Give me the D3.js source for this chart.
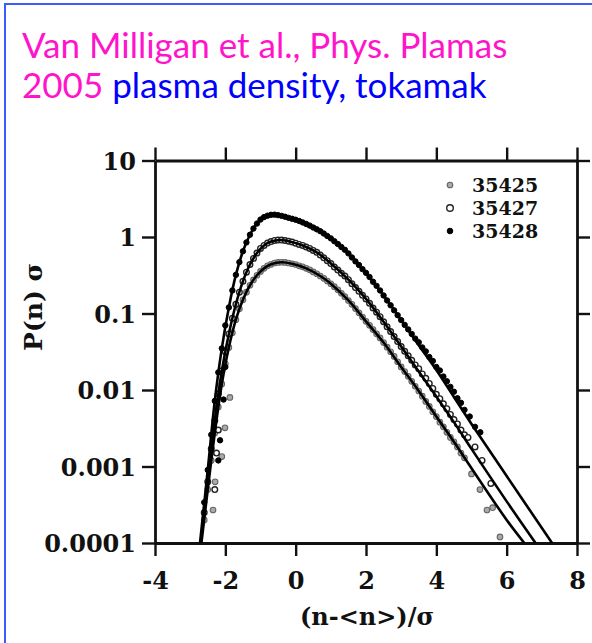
<!DOCTYPE html>
<html>
<head>
<meta charset="utf-8">
<script src="https://cdn.jsdelivr.net/npm/d3@7"></script>
<style>
  body { margin: 0; background: #fff; }
  svg { display: block; }
</style>
</head>
<body>
<div id="container"></div>
<script>
const titleLine1 = 'Van Milligan et al., Phys. Plamas';
const titleYear = '2005';
const titleRest = ' plasma density, tokamak';

const xTicks = [-4, -2, 0, 2, 4, 6, 8];
const xTickLabels = ['-4', '-2', '0', '2', '4', '6', '8'];
const yTicks = [1e-4, 1e-3, 1e-2, 1e-1, 1, 10];
const yTickLabels = ['0.0001', '0.001', '0.01', '0.1', '1', '10'];
const xTitle = '(n-<n>)/\u03c3';
const yTitle = 'P(n) \u03c3';
const seriesNames = ['35425', '35427', '35428'];

// measured points, one column per x value
const gridX = [
  -2.6, -2.5, -2.4, -2.3, -2.2, -2.1, -2.0, -1.9, -1.8, -1.7,
  -1.6, -1.5, -1.4, -1.3, -1.2, -1.1, -1.0, -0.9, -0.8, -0.7,
  -0.6, -0.5, -0.4, -0.3, -0.2, -0.1, 0.0, 0.1, 0.2, 0.3,
  0.4, 0.5, 0.6, 0.7, 0.8, 0.9, 1.0, 1.1, 1.2, 1.3,
  1.4, 1.5, 1.6, 1.7, 1.8, 1.9, 2.0, 2.1, 2.2, 2.3,
  2.4, 2.5, 2.6, 2.7, 2.8, 2.9, 3.0, 3.1, 3.2, 3.3,
  3.4, 3.5, 3.6, 3.7, 3.8, 3.9, 4.0, 4.1, 4.2, 4.3,
  4.4, 4.5, 4.6, 4.7, 4.8
];
const p35425 = [
  2e-4, 5e-4, 1.2e-3, 2.75e-3, 6e-3, 0.012, 0.022, 0.036, 0.056, 0.083,
  0.115, 0.151, 0.19, 0.234, 0.275, 0.316, 0.355, 0.389, 0.42, 0.44,
  0.457, 0.465, 0.468, 0.465, 0.457, 0.447, 0.437, 0.42, 0.407, 0.389,
  0.372, 0.35, 0.331, 0.309, 0.288, 0.266, 0.245, 0.224, 0.204, 0.184,
  0.166, 0.148, 0.132, 0.116, 0.102, 0.09, 0.079, 0.07, 0.0617, 0.0543,
  0.0479, 0.0417, 0.0363, 0.0316, 0.0275, 0.0234, 0.02, 0.0174, 0.0151, 0.013,
  0.0112, 0.0097, 0.0083, 0.0071, 0.0061, 0.0052, 0.0045, 0.0038, 0.0033, 0.0028,
  0.0024, 0.0021, 0.0018, 0.0015, 0.0013
];
const p35427 = [
  2.5e-4, 6.3e-4, 1.7e-3, 4e-3, 8.9e-3, 0.0178, 0.0316, 0.054, 0.087, 0.132,
  0.19, 0.263, 0.347, 0.437, 0.525, 0.617, 0.708, 0.776, 0.832, 0.871,
  0.902, 0.912, 0.912, 0.9, 0.88, 0.86, 0.83, 0.8, 0.776, 0.74,
  0.708, 0.668, 0.63, 0.58, 0.535, 0.49, 0.45, 0.405, 0.37, 0.336,
  0.309, 0.277, 0.245, 0.218, 0.195, 0.173, 0.155, 0.136, 0.118, 0.104,
  0.091, 0.078, 0.067, 0.058, 0.05, 0.043, 0.037, 0.032, 0.028, 0.0245,
  0.0213, 0.019, 0.0162, 0.0142, 0.0122, 0.0105, 0.0088, 0.0077, 0.0066, 0.0057,
  0.0048, 0.0041, 0.0036, 0.003, 0.0026
];
const p35428 = [
  3.4e-4, 9e-4, 2.6e-3, 7.2e-3, 0.017, 0.035, 0.07, 0.12, 0.2, 0.32,
  0.47, 0.65, 0.85, 1.07, 1.29, 1.5, 1.69, 1.82, 1.9, 1.95,
  1.96, 1.93, 1.89, 1.84, 1.78, 1.73, 1.68, 1.62, 1.55, 1.48,
  1.41, 1.33, 1.26, 1.19, 1.11, 1.03, 0.96, 0.88, 0.81, 0.74,
  0.68, 0.61, 0.54, 0.48, 0.43, 0.38, 0.34, 0.3, 0.26, 0.23,
  0.2, 0.172, 0.148, 0.128, 0.11, 0.095, 0.082, 0.071, 0.062, 0.054,
  0.047, 0.042, 0.036, 0.032, 0.027, 0.024, 0.02, 0.018, 0.015, 0.013,
  0.011, 0.0095, 0.0078, 0.0068, 0.0055
];

// scattered points in the tails
const tail35425 = [[-2.35, 2.7e-4], [-2.29, 6.3e-4], [-2.1, 1.35e-3], [-2.01, 3.2e-3], [-1.87, 8e-3],
  [5.0, 8e-4], [5.24, 5e-4], [5.44, 2.7e-4], [5.6, 2.9e-4], [5.81, 1.2e-4]];
const tail35427 = [[-2.2, 3e-3], [-2.25, 1.5e-3], [-2.3, 5e-4], [4.9, 0.0024], [5.1, 0.0018], [5.3, 0.0012], [5.55, 6e-4]];
const tail35428 = [[-2.05, 7.5e-3], [-2.15, 2.2e-3], [-2.2, 1.2e-3], [-2.0, 0.02], [4.95, 0.0045], [5.1, 0.0033], [5.25, 0.0028]];

// fitted curves
const fit35425 = [[-2.68, 1e-4], [-2.5, 5e-4], [-2.3, 2.75e-3], [-2.1, 0.012], [-1.9, 0.036], [-1.7, 0.083],
  [-1.5, 0.151], [-1.3, 0.234], [-1.1, 0.316], [-0.9, 0.389], [-0.7, 0.44], [-0.4, 0.468], [-0.1, 0.447],
  [0.3, 0.389], [0.7, 0.309], [1.0, 0.245], [1.5, 0.148], [2.0, 0.079], [2.5, 0.0417], [3.0, 0.02],
  [3.5, 0.0097], [4.0, 0.0045], [4.5, 0.0021], [5.0, 9.5e-4], [6.0, 2e-4], [6.5, 1e-4]];
const fit35427 = [[-2.7, 1e-4], [-2.5, 6.3e-4], [-2.3, 4e-3], [-2.1, 0.0178], [-1.9, 0.054], [-1.7, 0.132],
  [-1.5, 0.263], [-1.3, 0.437], [-1.1, 0.617], [-0.9, 0.776], [-0.7, 0.871], [-0.45, 0.912], [-0.2, 0.88],
  [0.2, 0.776], [0.6, 0.63], [1.0, 0.45], [1.5, 0.277], [2.0, 0.155], [2.5, 0.078], [3.0, 0.037],
  [3.5, 0.0175], [4.0, 0.0082], [4.5, 0.0038], [5.0, 0.0017], [6.0, 3.5e-4], [6.82, 1e-4]];
const fit35428 = [[-2.72, 1e-4], [-2.5, 9e-4], [-2.3, 7.2e-3], [-2.1, 0.035], [-1.9, 0.12], [-1.7, 0.32],
  [-1.5, 0.65], [-1.3, 1.07], [-1.1, 1.5], [-0.9, 1.82], [-0.7, 1.95], [-0.5, 1.93], [-0.2, 1.78],
  [0.2, 1.55], [0.6, 1.26], [1.0, 0.96], [1.5, 0.61], [2.0, 0.34], [2.5, 0.172], [3.0, 0.082],
  [3.5, 0.0385], [4.0, 0.0182], [4.5, 0.0081], [5.0, 0.0036], [6.0, 7.5e-4], [7.29, 1e-4]];

const W = 592, H = 643;
const plotLeft = 155, plotRight = 577, plotTop = 160.5, plotBottom = 543;
const serif = '"DejaVu Serif", serif';

const svg = d3.select('#container').append('svg')
  .attr('width', W)
  .attr('height', H);

svg.append('rect').attr('width', W).attr('height', H).attr('fill', '#fff');
svg.append('rect')
  .attr('x', 5).attr('y', 4)
  .attr('width', 700).attr('height', 700)
  .attr('fill', 'none')
  .attr('stroke', '#3a5cff')
  .attr('stroke-width', 2);

// title
const title = svg.append('g')
  .attr('font-family', 'Lato, "Open Sans", sans-serif')
  .attr('font-size', 35);
title.append('text')
  .attr('x', 22).attr('y', 58)
  .attr('fill', '#ff14cc')
  .text(titleLine1);
const t2 = title.append('text').attr('x', 22).attr('y', 98);
t2.append('tspan').attr('fill', '#ff14cc').text(titleYear);
t2.append('tspan').attr('fill', '#0000ff').text(titleRest);

const x = d3.scaleLinear().domain([-4, 8]).range([plotLeft, plotRight]);
const y = d3.scaleLog().domain([1e-4, 10]).range([plotBottom, plotTop]);

function styleAxis(g) {
  g.select('.domain').attr('stroke', '#111').attr('stroke-width', 2.8);
  g.selectAll('.tick line').attr('stroke', '#111').attr('stroke-width', 2.4);
  g.selectAll('.tick text')
    .attr('font-family', serif)
    .attr('font-weight', 'bold')
    .attr('font-size', 24)
    .attr('fill', '#111');
}

svg.append('g')
  .attr('transform', `translate(0,${plotBottom})`)
  .call(d3.axisBottom(x).tickValues(xTicks).tickSize(13).tickSizeOuter(0)
    .tickFormat((d, i) => xTickLabels[i]))
  .call(styleAxis)
  .call(g => g.selectAll('.tick text').attr('y', 46).attr('dy', 0));

svg.append('g')
  .attr('transform', `translate(0,${plotTop})`)
  .call(d3.axisTop(x).tickValues(xTicks).tickSize(13).tickSizeOuter(0).tickFormat(''))
  .call(styleAxis);

svg.append('g')
  .attr('transform', `translate(${plotLeft},0)`)
  .call(d3.axisLeft(y).tickValues(yTicks).tickSize(13).tickSizeOuter(0)
    .tickFormat((d, i) => yTickLabels[i]))
  .call(styleAxis)
  .call(g => g.selectAll('.tick text').attr('x', -19).attr('dy', '0.36em'));

svg.append('g')
  .attr('transform', `translate(${plotRight},0)`)
  .call(d3.axisRight(y).tickValues(yTicks).tickSize(13).tickSizeOuter(0).tickFormat(''))
  .call(styleAxis);

// axis titles
svg.append('text')
  .attr('x', 367).attr('y', 625)
  .attr('text-anchor', 'middle')
  .attr('font-family', serif)
  .attr('font-weight', 'bold')
  .attr('font-size', 24)
  .attr('fill', '#111')
  .text(xTitle);

svg.append('text')
  .attr('transform', 'translate(42,307) rotate(-90)')
  .attr('text-anchor', 'middle')
  .attr('font-family', serif)
  .attr('font-weight', 'bold')
  .attr('font-size', 25)
  .attr('fill', '#111')
  .text(yTitle);

// data
svg.append('clipPath').attr('id', 'plot-clip')
  .append('rect')
  .attr('x', plotLeft).attr('y', plotTop)
  .attr('width', plotRight - plotLeft).attr('height', plotBottom - plotTop);

const plot = svg.append('g').attr('clip-path', 'url(#plot-clip)');

const markerStyles = [
  { r: 2.8, fill: '#aaa', stroke: '#666', sw: 1.1 },
  { r: 2.8, fill: '#fff', stroke: '#222', sw: 1.4 },
  { r: 2.7, fill: '#000', stroke: '#000', sw: 1 }
];

const series = [
  { p: p35425, tail: tail35425, fit: fit35425 },
  { p: p35427, tail: tail35427, fit: fit35427 },
  { p: p35428, tail: tail35428, fit: fit35428 }
];

const line = d3.line()
  .x(d => x(d[0]))
  .y(d => y(d[1]))
  .curve(d3.curveCatmullRom.alpha(0.5));

series.forEach((s, k) => {
  const pts = gridX.map((gx, i) => [gx, s.p[i]]).concat(s.tail);
  const st = markerStyles[k];
  plot.append('g')
    .selectAll('circle')
    .data(pts)
    .enter().append('circle')
    .attr('cx', d => x(d[0]))
    .attr('cy', d => y(d[1]))
    .attr('r', st.r)
    .attr('fill', st.fill)
    .attr('stroke', st.stroke)
    .attr('stroke-width', st.sw);
});

series.forEach(s => {
  plot.append('path')
    .attr('d', line(s.fit))
    .attr('fill', 'none')
    .attr('stroke', '#000')
    .attr('stroke-width', 2.6);
});

// legend
const legend = svg.append('g');
seriesNames.forEach((name, k) => {
  const ly = 185 + k * 23;
  const st = markerStyles[k];
  legend.append('circle')
    .attr('cx', 450).attr('cy', ly)
    .attr('r', k === 1 ? 3.3 : 2.8)
    .attr('fill', st.fill)
    .attr('stroke', st.stroke)
    .attr('stroke-width', st.sw);
  legend.append('text')
    .attr('x', 472).attr('y', ly + 7)
    .attr('font-family', serif)
    .attr('font-weight', 'bold')
    .attr('font-size', 19)
    .attr('fill', '#111')
    .text(name);
});
</script>
</body>
</html>
